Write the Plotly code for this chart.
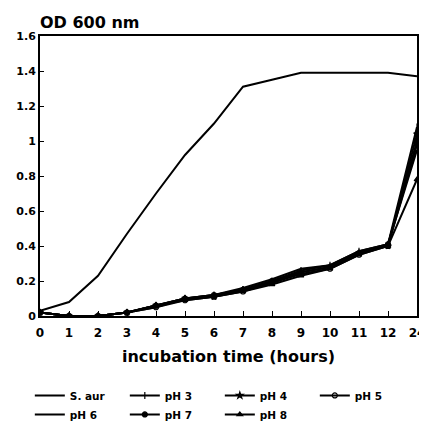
import plotly.graph_objects as go

hours = ["0", "1", "2", "3", "4", "5", "6", "7", "8", "9", "10", "11", "12", "24"]
s_aur = [0.03, 0.08, 0.23, 0.47, 0.70, 0.92, 1.10, 1.31, 1.35, 1.39, 1.39, 1.39, 1.39, 1.37]
ph3 = [0.02, 0.00, 0.00, 0.02, 0.06, 0.10, 0.12, 0.15, 0.20, 0.26, 0.29, 0.37, 0.41, 1.08]
ph4 = [0.02, 0.00, 0.00, 0.02, 0.06, 0.10, 0.11, 0.15, 0.19, 0.25, 0.28, 0.36, 0.40, 1.04]
ph5 = [0.02, 0.00, 0.00, 0.02, 0.05, 0.09, 0.11, 0.14, 0.19, 0.24, 0.27, 0.35, 0.40, 0.98]
ph6 = [0.02, 0.00, 0.00, 0.02, 0.05, 0.10, 0.12, 0.16, 0.21, 0.27, 0.29, 0.37, 0.41, 0.95]
ph7 = [0.02, 0.00, 0.00, 0.02, 0.06, 0.10, 0.12, 0.15, 0.20, 0.25, 0.28, 0.36, 0.41, 1.00]
ph8 = [0.02, 0.00, 0.00, 0.02, 0.06, 0.09, 0.11, 0.14, 0.18, 0.23, 0.27, 0.35, 0.40, 0.78]
y_ticks = [0, 0.2, 0.4, 0.6, 0.8, 1.0, 1.2, 1.4, 1.6]
y_tick_labels = ["0", "0.2", "0.4", "0.6", "0.8", "1", "1.2", "1.4", "1.6"]

series = [
    ("S. aur", s_aur, None),
    ("pH 3", ph3, "line-ns"),
    ("pH 4", ph4, "star"),
    ("pH 5", ph5, "circle-open"),
    ("pH 6", ph6, None),
    ("pH 7", ph7, "circle"),
    ("pH 8", ph8, "triangle-up"),
]

FONT = "DejaVu Sans"
fig = go.Figure()
for name, vals, sym in series:
    fig.add_trace(go.Scatter(
        x=hours, y=vals, name=name,
        mode="lines+markers" if sym else "lines",
        line=dict(color="black", width=2),
        marker=dict(symbol=sym or "circle", size=5, color="black",
                    line=dict(color="black", width=1.2)),
    ))

# page body has an 8px default margin; figure geometry compensates
fig.update_layout(
    width=427, height=440,
    paper_bgcolor="white", plot_bgcolor="white",
    margin=dict(l=32, r=18, t=28, b=132),
    font=dict(family=FONT, color="black", size=11, weight="bold"),
    title=dict(text="OD 600 nm", x=0, xanchor="left", xref="paper",
               y=1, yref="paper", yanchor="bottom", pad=dict(b=8),
               font=dict(family=FONT, size=16, color="black", weight="bold")),
    legend=dict(orientation="h", x=-0.027, xanchor="left", y=-0.232, yanchor="top",
                entrywidth=50, entrywidthmode="pixels", itemwidth=30,
                font=dict(size=10.5, family=FONT, weight="bold"),
                bgcolor="rgba(0,0,0,0)", tracegroupgap=0),
    showlegend=True,
)
fig.update_xaxes(
    type="category", range=[0, 13], automargin=False,
    showline=True, linecolor="black", linewidth=2, mirror=True,
    ticks="inside", ticklen=5, tickcolor="black", tickwidth=1,
    showgrid=False, zeroline=False, ticklabelstandoff=5,
    tickfont=dict(size=12, family=FONT, weight="bold"),
    title=dict(text="incubation time (hours)", standoff=11,
               font=dict(size=16, family=FONT, weight="bold")),
)
fig.update_yaxes(
    range=[0, 1.6], tickvals=y_ticks, ticktext=y_tick_labels, automargin=False,
    showline=True, linecolor="black", linewidth=2, mirror=True,
    ticks="inside", ticklen=4, tickcolor="black", tickwidth=1,
    showgrid=False, zeroline=False,
    tickfont=dict(size=11, family=FONT, weight="bold"),
)

fig.write_html("out.html")
